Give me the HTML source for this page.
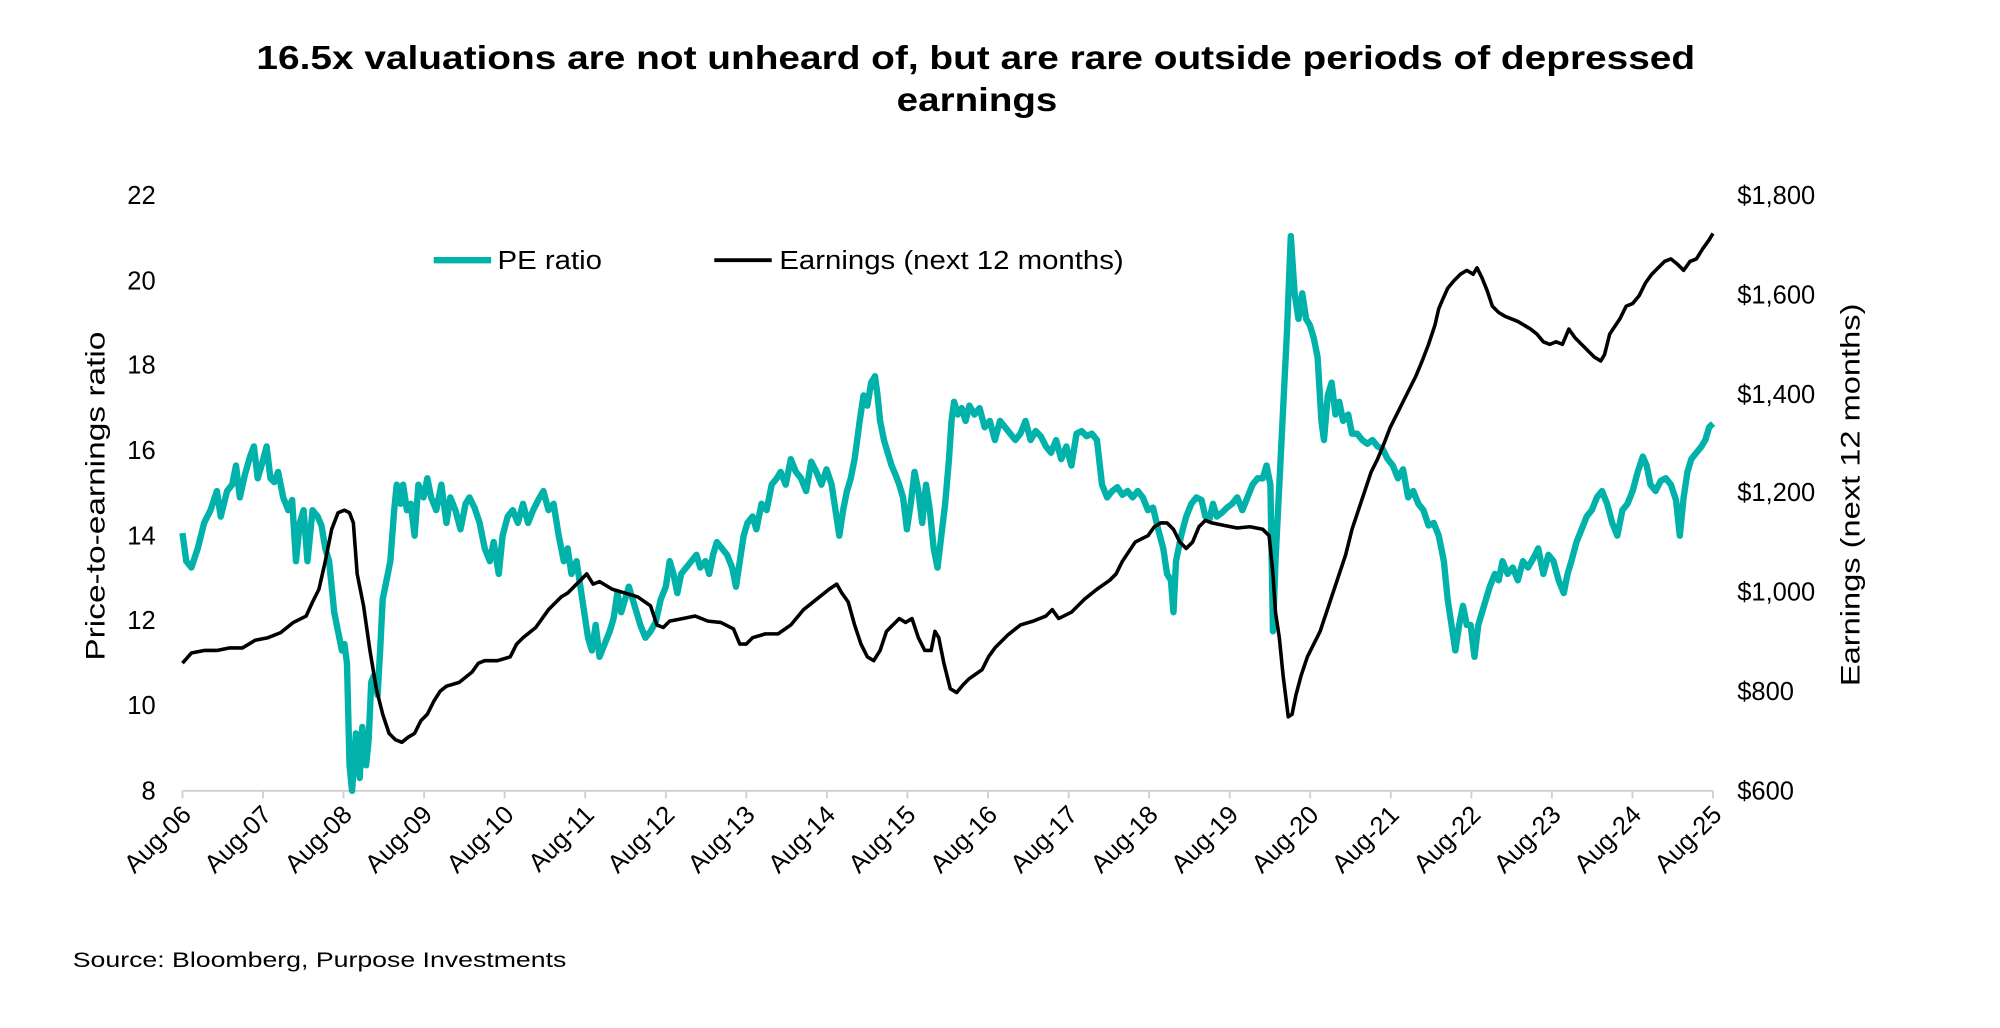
<!DOCTYPE html>
<html><head><meta charset="utf-8"><style>
html,body{margin:0;padding:0;background:#fff;}
svg{display:block;font-family:"Liberation Sans",sans-serif;}
</style></head><body>
<svg width="2000" height="1028" viewBox="0 0 1568 806" xmlns="http://www.w3.org/2000/svg">
<rect width="1568" height="806" fill="#fff"/>
<text x="201" y="54" font-size="26" font-weight="bold" fill="#000" textLength="1128" lengthAdjust="spacingAndGlyphs">16.5x valuations are not unheard of, but are rare outside periods of depressed</text>
<text x="703" y="87" font-size="26" font-weight="bold" fill="#000" textLength="126" lengthAdjust="spacingAndGlyphs">earnings</text>
<g font-size="20" fill="#000" text-anchor="end">
<text x="122" y="160">22</text><text x="122" y="227">20</text><text x="122" y="293">18</text><text x="122" y="360">16</text><text x="122" y="427">14</text><text x="122" y="493">12</text><text x="122" y="560">10</text><text x="122" y="627">8</text>
</g>
<g font-size="20" fill="#000">
<text x="1362" y="160">$1,800</text><text x="1362" y="238">$1,600</text><text x="1362" y="316">$1,400</text><text x="1362" y="393">$1,200</text><text x="1362" y="471">$1,000</text><text x="1362" y="549">$800</text><text x="1362" y="627">$600</text>
</g>
<text transform="translate(82,389) rotate(-90)" text-anchor="middle" font-size="21" textLength="258" lengthAdjust="spacingAndGlyphs">Price-to-earnings ratio</text>
<text transform="translate(1458,388) rotate(-90)" text-anchor="middle" font-size="21" textLength="300" lengthAdjust="spacingAndGlyphs">Earnings (next 12 months)</text>
<line x1="143" y1="620" x2="1343" y2="620" stroke="#d0d0d0" stroke-width="1.5"/>
<g stroke="#d0d0d0" stroke-width="1.5">
<line x1="143" y1="620" x2="143" y2="626"/><line x1="206.2" y1="620" x2="206.2" y2="626"/><line x1="269.3" y1="620" x2="269.3" y2="626"/><line x1="332.5" y1="620" x2="332.5" y2="626"/><line x1="395.6" y1="620" x2="395.6" y2="626"/><line x1="458.8" y1="620" x2="458.8" y2="626"/><line x1="522" y1="620" x2="522" y2="626"/><line x1="585.1" y1="620" x2="585.1" y2="626"/><line x1="648.3" y1="620" x2="648.3" y2="626"/><line x1="711.4" y1="620" x2="711.4" y2="626"/><line x1="774.6" y1="620" x2="774.6" y2="626"/><line x1="837.8" y1="620" x2="837.8" y2="626"/><line x1="900.9" y1="620" x2="900.9" y2="626"/><line x1="964.1" y1="620" x2="964.1" y2="626"/><line x1="1027.2" y1="620" x2="1027.2" y2="626"/><line x1="1090.4" y1="620" x2="1090.4" y2="626"/><line x1="1153.6" y1="620" x2="1153.6" y2="626"/><line x1="1216.7" y1="620" x2="1216.7" y2="626"/><line x1="1279.9" y1="620" x2="1279.9" y2="626"/><line x1="1343" y1="620" x2="1343" y2="626"/>
</g>
<g font-size="20" fill="#000" text-anchor="end">
<text transform="translate(151,640) rotate(-45)">Aug-06</text>
<text transform="translate(214,640) rotate(-45)">Aug-07</text>
<text transform="translate(277,640) rotate(-45)">Aug-08</text>
<text transform="translate(340,640) rotate(-45)">Aug-09</text>
<text transform="translate(404,640) rotate(-45)">Aug-10</text>
<text transform="translate(467,640) rotate(-45)">Aug-11</text>
<text transform="translate(530,640) rotate(-45)">Aug-12</text>
<text transform="translate(593,640) rotate(-45)">Aug-13</text>
<text transform="translate(656,640) rotate(-45)">Aug-14</text>
<text transform="translate(719,640) rotate(-45)">Aug-15</text>
<text transform="translate(783,640) rotate(-45)">Aug-16</text>
<text transform="translate(846,640) rotate(-45)">Aug-17</text>
<text transform="translate(909,640) rotate(-45)">Aug-18</text>
<text transform="translate(972,640) rotate(-45)">Aug-19</text>
<text transform="translate(1035,640) rotate(-45)">Aug-20</text>
<text transform="translate(1098,640) rotate(-45)">Aug-21</text>
<text transform="translate(1162,640) rotate(-45)">Aug-22</text>
<text transform="translate(1225,640) rotate(-45)">Aug-23</text>
<text transform="translate(1288,640) rotate(-45)">Aug-24</text>
<text transform="translate(1351,640) rotate(-45)">Aug-25</text>
</g>
<line x1="340" y1="204" x2="385" y2="204" stroke="#00b2a9" stroke-width="5"/>
<text x="390" y="211" font-size="20" textLength="82" lengthAdjust="spacingAndGlyphs">PE ratio</text>
<line x1="560" y1="204" x2="605" y2="204" stroke="#000" stroke-width="3"/>
<text x="611" y="211" font-size="20" textLength="270" lengthAdjust="spacingAndGlyphs">Earnings (next 12 months)</text>
<polyline fill="none" stroke="#00b2a9" stroke-width="5" stroke-linejoin="round" points="143,418 146,440 150,445 155,430 160,410 165,400 170,385 173,405 178,385 182,380 185,365 188,390 192,372 196,358 199,350 202,375 205,365 209,350 212,375 215,378 218,370 222,390 226,400 229,392 232,440 235,410 238,400 241,440 245,400 249,405 252,412 255,430 258,440 262,480 265,495 268,510 270,505 272,520 274,600 276,620 279,575 282,610 284,570 287,600 289,580 291,535 293,530 296,545 298,510 300,470 303,455 306,440 309,400 311,380 314,395 316,380 319,400 322,395 325,420 328,380 332,390 335,375 338,390 342,400 346,380 350,410 353,390 357,400 361,415 365,395 368,390 372,398 376,410 380,430 384,440 387,425 391,450 394,420 398,405 402,400 406,410 410,395 414,410 418,400 422,392 426,385 430,400 434,395 438,420 442,440 445,430 448,450 452,440 455,460 458,480 461,500 464,510 467,490 470,515 474,505 478,495 481,485 484,465 487,480 490,470 493,460 496,470 499,480 502,490 506,500 510,495 514,488 518,470 522,460 525,440 528,450 531,465 534,450 538,445 542,440 546,435 549,445 553,440 556,450 559,435 562,425 566,430 570,435 574,445 577,460 580,440 583,420 586,410 590,405 593,415 597,395 601,400 605,380 609,375 612,370 616,380 620,360 624,370 628,375 632,385 636,362 640,370 644,380 648,368 652,380 655,400 658,420 661,400 664,385 667,375 670,360 674,330 677,310 680,318 683,300 686,295 688,310 690,330 693,345 696,355 699,365 702,372 705,380 708,390 711,415 714,395 717,370 720,385 723,410 726,380 729,400 732,430 735,445 738,420 741,395 744,360 746,330 748,315 751,325 754,320 757,330 760,318 764,325 768,320 772,335 776,330 780,345 784,330 788,335 792,340 796,345 800,340 804,330 808,345 812,338 816,342 820,350 824,355 828,345 832,360 836,350 840,365 844,340 848,338 852,342 856,340 860,345 864,380 868,390 872,385 876,382 880,388 884,385 888,390 892,385 896,390 900,400 904,398 908,415 912,430 915,450 918,455 920,480 922,440 926,420 930,405 934,395 938,390 942,392 945,405 948,408 951,395 954,405 958,402 962,398 966,395 970,390 974,400 978,390 982,380 986,375 990,375 993,365 996,380 998,495 1000,440 1003,380 1006,320 1009,260 1012,185 1015,230 1018,250 1021,230 1024,250 1027,255 1030,265 1033,280 1036,330 1038,345 1041,310 1044,300 1047,325 1050,315 1053,330 1057,325 1060,340 1064,340 1068,345 1072,348 1076,345 1080,350 1084,352 1088,360 1092,365 1096,375 1100,368 1104,390 1108,385 1112,395 1116,400 1120,412 1124,410 1128,420 1132,440 1135,470 1138,490 1141,510 1144,490 1147,475 1150,490 1153,490 1156,515 1159,490 1162,480 1165,470 1168,460 1172,450 1175,455 1178,440 1182,450 1186,445 1190,455 1194,440 1198,445 1202,438 1206,430 1210,450 1214,435 1218,440 1222,455 1226,465 1229,450 1232,440 1236,425 1240,415 1244,405 1248,400 1252,390 1256,385 1260,395 1264,410 1268,420 1272,400 1276,395 1280,385 1284,370 1288,358 1291,365 1294,380 1298,385 1302,377 1306,375 1310,380 1314,392 1317,420 1320,390 1323,370 1326,360 1330,355 1334,350 1337,345 1340,335 1343,332"/>
<polyline fill="none" stroke="#000" stroke-width="2.8" stroke-linejoin="round" points="143,520 150,512 160,510 170,510 180,508 190,508 200,502 210,500 220,496 230,488 240,483 245,472 250,462 255,440 260,415 265,402 270,400 274,402 277,410 280,450 285,475 290,510 295,540 300,560 305,575 310,580 315,582 320,578 325,575 330,565 335,560 340,550 345,542 350,538 360,535 370,527 375,520 380,518 390,518 400,515 405,505 410,500 420,492 425,485 430,478 440,468 445,465 450,460 455,455 460,450 465,458 470,456 480,462 490,465 500,468 510,475 515,490 520,492 525,487 535,485 545,483 555,487 565,488 575,493 580,505 585,505 590,500 600,497 610,497 620,490 630,478 640,470 650,462 656,458 660,465 665,472 670,490 675,505 680,515 685,518 690,510 695,495 700,490 705,485 710,488 715,485 720,500 725,510 730,510 733,495 736,500 740,520 745,540 750,543 755,537 760,532 770,525 775,515 780,508 790,498 800,490 810,487 820,483 825,478 830,485 840,480 850,470 860,462 870,455 875,450 880,440 890,425 900,420 905,413 910,410 915,410 920,415 925,425 930,430 935,425 940,413 945,408 950,410 960,412 970,414 980,413 990,415 995,420 998,450 1000,480 1003,500 1006,530 1010,562 1013,560 1016,545 1020,530 1025,515 1030,505 1035,495 1040,480 1045,465 1050,450 1055,435 1060,415 1065,400 1070,385 1075,370 1080,360 1085,348 1090,335 1095,325 1100,315 1105,305 1110,295 1115,283 1120,270 1125,255 1128,242 1131,235 1135,226 1140,220 1145,215 1150,212 1155,215 1158,210 1162,218 1166,228 1170,240 1175,245 1180,248 1190,252 1200,258 1205,262 1210,268 1215,270 1220,268 1225,270 1230,258 1235,265 1240,270 1245,275 1250,280 1255,283 1258,278 1262,262 1270,250 1275,240 1280,238 1285,232 1290,222 1295,215 1300,210 1305,205 1310,203 1315,207 1320,212 1325,205 1330,203 1335,195 1340,188 1343,183"/>
<text x="57" y="758" font-size="17" textLength="387" lengthAdjust="spacingAndGlyphs">Source: Bloomberg, Purpose Investments</text>
</svg>
</body></html>
